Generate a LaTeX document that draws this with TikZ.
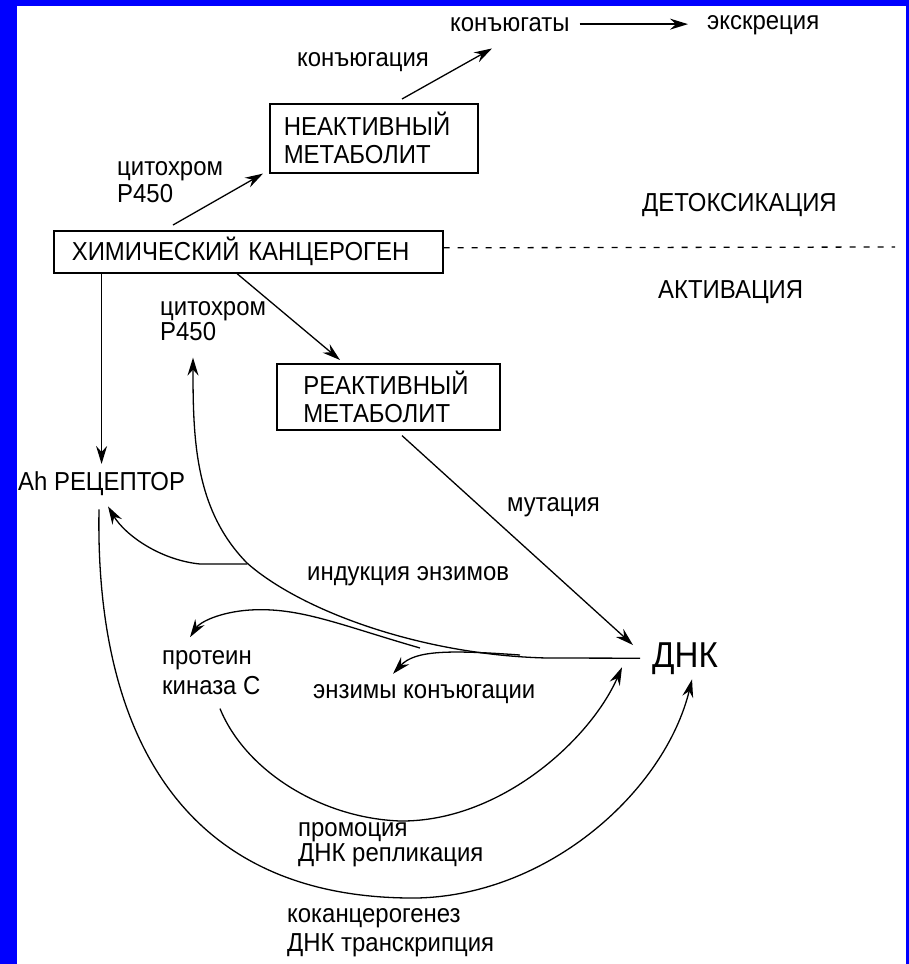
\documentclass[tikz,border=0pt]{standalone}
\usepackage{fontspec}
\setmainfont[FakeStretch=0.92]{Liberation Sans}
\usetikzlibrary{arrows.meta,calc}
\newcommand{\twoline}[3][0pt]{\begin{tabular}[t]{@{}l@{}}#2\\[#1]#3\end{tabular}}
\begin{document}
\begin{tikzpicture}[x=1pt,y=-1pt,
  every node/.style={font=\fontsize{26}{28}\selectfont, inner sep=0pt, text=black},
  lbl/.style={anchor=base west},
  box/.style={draw, line width=1.6pt, anchor=north west, align=left, inner ysep=0pt},
  conn/.style={line width=1.3pt},
  arr/.style={conn, -{Stealth[length=18pt,width=11pt,inset=6pt]}},
  sep/.style={line width=1.3pt, dash pattern=on 6pt off 8pt}
]
\useasboundingbox (0,0) rectangle (909,964);
\fill[blue] (0,0) rectangle (909,964);
\fill[white] (17,6) rectangle (906,964);

% boxes
\node[box, text width=180pt, inner xsep=14pt, minimum height=69pt] (inact) at (269,103) {НЕАКТИВНЫЙ\\МЕТАБОЛИТ};
\node[box, text width=170pt, inner xsep=26.5pt, minimum height=66pt] (react) at (276,363) {РЕАКТИВНЫЙ\\МЕТАБОЛИТ};
\node[box, text width=353pt, inner xsep=18pt, minimum height=42pt] (chem) at (53,230) {ХИМИЧЕСКИЙ КАНЦЕРОГЕН};

% labels
\node[lbl] (konj) at (450,31) {конъюгаты};
\node[lbl] (excr) at (707,29) {экскреция};
\node[lbl] (conjlbl) at (297,66) {конъюгация};
\node[lbl] (p450a) at (117,175) {\twoline[-1pt]{цитохром}{P450}};
\node[lbl] (detox) at (642,211) {ДЕТОКСИКАЦИЯ};
\node[lbl] (activ) at (658,298) {АКТИВАЦИЯ};
\node[lbl] (ah) at (18,490) {Ah РЕЦЕПТОР};
\node[lbl] (p450b) at (160,315) {\twoline[-3pt]{цитохром}{P450}};
\node[lbl] (mut) at (507,511) {мутация};
\node[lbl] (induct) at (307,580) {индукция энзимов};
\node[lbl] (pkc) at (162,664) {\twoline[2pt]{протеин}{киназа С}};
\node[lbl] (enz) at (313,698) {энзимы конъюгации};
\node[lbl, font=\fontsize{36}{40}\selectfont] (dna) at (652,667) {ДНК};
\node[lbl] (promo) at (298,836) {\twoline[-3pt]{промоция}{ДНК репликация}};
\node[lbl] (cocar) at (287,922) {\twoline[1pt]{коканцерогенез}{ДНК транскрипция}};

% upper part
\draw[arr] ([shift={(120,-5)}]chem.north west) -- ([shift={(-6,0)}]inact.south west);
\draw[arr] ([shift={(133,-4)}]inact.north west) -- ([shift={(42,17)}]konj.south west);
\draw[arr] ([xshift=10pt]konj.east) -- ([xshift=-19pt]konj.east -| excr.west);
\coordinate (dashend) at (895,247);
\draw[sep] ([yshift=4pt]chem.east) -- (dashend);

% activation
\draw[arr] (chem.south -| ah.north) -- ([yshift=7pt]ah.north);
\draw[arr] ([xshift=184pt]chem.south west) -- ([shift={(64,-3)}]react.north west);
\draw[arr] ([shift={(126,5)}]react.south west) -- ([shift={(-19,3)}]dna.north west);

% enzyme induction from DNA
\coordinate (dnaL) at ([xshift=-12pt]dna.west);
\draw[arr] (dnaL) -- (547,658) .. controls (420,655) and (300,610) .. (247,563)
  .. controls (195,510) and (193,440) .. ([shift={(33,9)}]p450b.south west);
\coordinate (brAh) at (247,564);
\draw[arr] (brAh) -- (200,564) .. controls (160,560) and (125,535) .. ([shift={(90,11)}]ah.south west);
\coordinate (brPK) at (420,648);
\draw[arr] (brPK) .. controls (340,625) and (300,607) .. (250,610)
  .. controls (220,612) and (200,622) .. ([shift={(28,-7)}]pkc.north west);
\coordinate (brEnz) at (520,655);
\draw[arr] (brEnz) .. controls (450,650) and (415,650) .. ([shift={(80,-10)}]enz.north west);

% promotion
\draw[arr] ([shift={(58,6)}]pkc.south west) .. controls (245,770) and (320,818) .. (400,821)
  .. controls (500,822) and (590,740) .. ([shift={(-30,9)}]dna.west);

% cocarcinogenesis
\draw[arr] ([shift={(81,14)}]ah.south west) .. controls (95,730) and (180,900) .. (417,898)
  .. controls (550,895) and (665,790) .. ([shift={(7,5)}]dna.south);
\end{tikzpicture}
\end{document}
